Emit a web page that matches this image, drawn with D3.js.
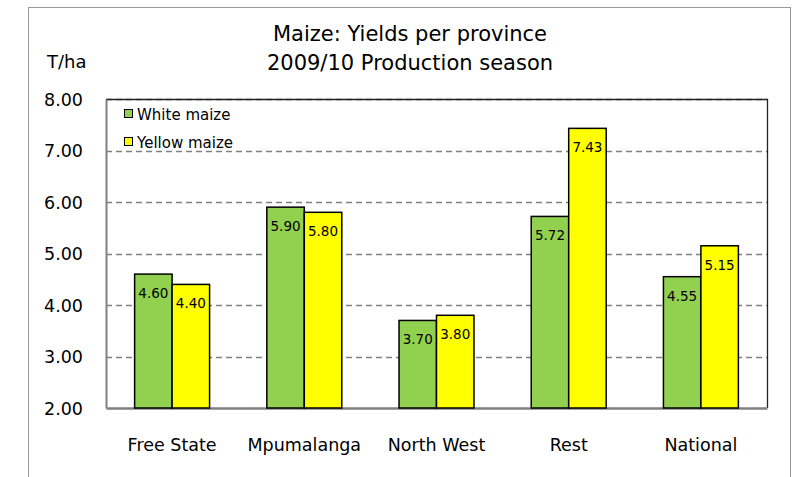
<!DOCTYPE html>
<html>
<head>
<meta charset="utf-8">
<script src="https://cdn.jsdelivr.net/npm/d3@7"></script>
<style>
  body { margin: 0; background: #fff; }
  text { font-family: "DejaVu Sans", Verdana, sans-serif; fill: #000; }
</style>
</head>
<body>
<div id="chart"></div>
<script>
// Chart data
var provinces = ["Free State", "Mpumalanga", "North West", "Rest", "National"];
var seriesNames = ["White maize", "Yellow maize"];
var whiteMaize = [4.60, 5.90, 3.70, 5.72, 4.55];
var yellowMaize = [4.40, 5.80, 3.80, 7.43, 5.15];
var yTicks = [2, 3, 4, 5, 6, 7, 8];
var colors = ["#92D050", "#FFFF00"];

const width = 792;
const height = 477;

// plot area
var plot = {left: 106, top: 99, right: 767, bottom: 408};

var svg = d3.select("#chart")
            .append("svg")
                .attr("width", width)
                .attr("height", height);

// outer frame
svg.append("rect")
    .attr("x", 28.5).attr("y", 7.5)
    .attr("width", 762).attr("height", 480)
    .attr("fill", "none")
    .attr("stroke", "#999")
    .attr("stroke-width", 1);

// Scales
var scaleX = d3.scaleBand()
                .domain(provinces)
                .range([plot.left, plot.right]);

var scaleSeries = d3.scaleBand()
                .domain(seriesNames)
                .range([0, scaleX.bandwidth() * 0.567])
                .padding(0);

var scaleY = d3.scaleLinear()
                .domain([2, 8])
                .range([plot.bottom, plot.top]);

// Gridlines
svg.append("g")
    .selectAll("line")
    .data(yTicks.slice(1))
    .enter()
    .append("line")
        .attr("x1", plot.left)
        .attr("x2", plot.right)
        .attr("y1", function(d) { return Math.round(scaleY(d)) + 0.5; })
        .attr("y2", function(d) { return Math.round(scaleY(d)) + 0.5; })
        .attr("stroke", "#808080")
        .attr("stroke-width", 1.3)
        .attr("stroke-dasharray", "6,4");

// top and right border of plot area
svg.append("path")
    .attr("d", "M" + plot.left + "," + (plot.top + 0.5) + "H" + (plot.right + 0.5) + "V" + plot.bottom)
    .attr("fill", "none")
    .attr("stroke", "#222")
    .attr("stroke-width", 1.3);

// Y axis
var axisY = svg.append("g")
    .attr("transform", "translate(" + plot.left + ",0)")
    .call(d3.axisLeft(scaleY).tickValues(yTicks).tickSize(0).tickPadding(23)
            .tickFormat(d3.format(".2f")));
axisY.select(".domain").attr("stroke", "#808080").attr("stroke-width", 2);
axisY.selectAll("text")
    .attr("font-size", "17.5px")
    .attr("font-family", "DejaVu Sans")
    .attr("dy", "0.36em");

// X axis
var axisX = svg.append("g")
    .attr("transform", "translate(0," + plot.bottom + ")")
    .call(d3.axisBottom(scaleX).tickSize(0).tickPadding(31));
axisX.select(".domain").attr("stroke", "#808080").attr("stroke-width", 2.5);
axisX.selectAll("text")
    .attr("font-size", "17.5px")
    .attr("font-family", "DejaVu Sans");

// Bars
var rows = provinces.map(function(p, i) {
    return {province: p, values: [
        {series: seriesNames[0], value: whiteMaize[i], color: colors[0]},
        {series: seriesNames[1], value: yellowMaize[i], color: colors[1]}
    ]};
});

var groupOffset = (scaleX.bandwidth() - scaleSeries.range()[1]) / 2;

var groups = svg.append("g")
    .selectAll("g")
    .data(rows)
    .enter()
    .append("g")
        .attr("transform", function(d) { return "translate(" + (scaleX(d.province) + groupOffset) + ",0)"; });

groups.selectAll("rect")
    .data(function(d) { return d.values; })
    .enter()
    .append("rect")
        .attr("x", function(d) { return scaleSeries(d.series); })
        .attr("y", function(d) { return scaleY(d.value); })
        .attr("width", scaleSeries.bandwidth())
        .attr("height", function(d) { return plot.bottom - scaleY(d.value); })
        .attr("fill", function(d) { return d.color; })
        .attr("stroke", "#000")
        .attr("stroke-width", 1.5);

// Value labels inside the top of each bar
groups.selectAll("text.value")
    .data(function(d) { return d.values; })
    .enter()
    .append("text")
        .attr("class", "value")
        .attr("x", function(d) { return scaleSeries(d.series) + scaleSeries.bandwidth() / 2; })
        .attr("y", function(d) { return scaleY(d.value) + 24; })
        .attr("text-anchor", "middle")
        .attr("font-size", "13.5px")
        .text(function(d) { return d3.format(".2f")(d.value); });

// Title
svg.append("text")
    .attr("x", 410).attr("y", 41)
    .attr("text-anchor", "middle")
    .attr("font-size", "21px")
    .text("Maize: Yields per province");
svg.append("text")
    .attr("x", 410).attr("y", 70)
    .attr("text-anchor", "middle")
    .attr("font-size", "21px")
    .text("2009/10 Production season");

// Unit label
svg.append("text")
    .attr("x", 47).attr("y", 68)
    .attr("font-size", "18px")
    .text("T/ha");

// Legend
var legend = svg.append("g")
    .selectAll("g")
    .data(seriesNames)
    .enter()
    .append("g")
        .attr("transform", function(d, i) { return "translate(124," + (114 + i * 28) + ")"; });

legend.append("rect")
    .attr("x", 0.5).attr("y", -4.5)
    .attr("width", 8).attr("height", 8)
    .attr("fill", function(d, i) { return colors[i]; })
    .attr("stroke", "#000")
    .attr("stroke-width", 1);

legend.append("text")
    .attr("x", 13).attr("y", 5.5)
    .attr("font-size", "15px")
    .text(function(d) { return d; });
</script>
</body>
</html>
